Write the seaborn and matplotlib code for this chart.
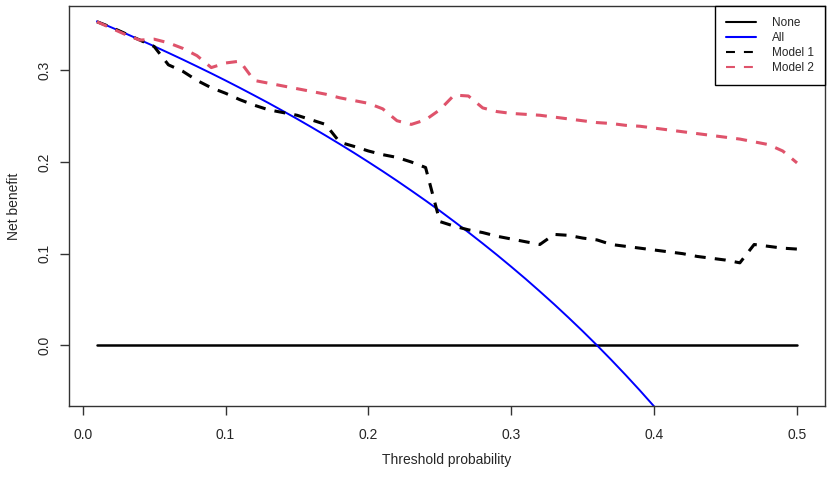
import numpy as np
import pandas as pd
import matplotlib
matplotlib.use('Agg')
import matplotlib.pyplot as plt
import seaborn as sns

# threshold grid and curves
thresh = [0.01, 0.02, 0.03, 0.04, 0.05, 0.06, 0.07, 0.08, 0.09, 0.10,
          0.11, 0.12, 0.13, 0.14, 0.15, 0.16, 0.17, 0.18, 0.19, 0.20,
          0.21, 0.22, 0.23, 0.24, 0.25, 0.26, 0.27, 0.28, 0.29, 0.30,
          0.31, 0.32, 0.33, 0.34, 0.35, 0.36, 0.37, 0.38, 0.39, 0.40,
          0.41, 0.42, 0.43, 0.44, 0.45, 0.46, 0.47, 0.48, 0.49, 0.50]

nb_none = [0.0] * len(thresh)

all_thresh = [0.01, 0.02, 0.03, 0.04, 0.05, 0.06, 0.07, 0.08, 0.09, 0.10,
              0.11, 0.12, 0.13, 0.14, 0.15, 0.16, 0.17, 0.18, 0.19, 0.20,
              0.21, 0.22, 0.23, 0.24, 0.25, 0.26, 0.27, 0.28, 0.29, 0.30,
              0.31, 0.32, 0.33, 0.34, 0.35, 0.36, 0.37, 0.38, 0.39, 0.40, 0.41]
nb_all = [0.3535, 0.3469, 0.3402, 0.3333, 0.3263, 0.3191, 0.3118, 0.3043, 0.2967, 0.2889,
          0.2809, 0.2727, 0.2644, 0.2558, 0.2471, 0.2381, 0.2289, 0.2195, 0.2099, 0.2000,
          0.1899, 0.1795, 0.1688, 0.1579, 0.1467, 0.1351, 0.1233, 0.1111, 0.0986, 0.0857,
          0.0725, 0.0588, 0.0448, 0.0303, 0.0154, 0.0000, -0.0159, -0.0323, -0.0492, -0.0667, -0.0847]

nb_model1 = [0.353, 0.347, 0.340, 0.333, 0.326, 0.306, 0.299, 0.289, 0.281, 0.275,
             0.268, 0.262, 0.257, 0.254, 0.251, 0.246, 0.241, 0.2215, 0.217, 0.212,
             0.208, 0.205, 0.200, 0.194, 0.135, 0.130, 0.126, 0.123, 0.119, 0.116,
             0.113, 0.110, 0.121, 0.120, 0.117, 0.115, 0.110, 0.108, 0.106, 0.104,
             0.102, 0.100, 0.097, 0.095, 0.093, 0.090, 0.110, 0.108, 0.106, 0.105]

nb_model2 = [0.353, 0.346, 0.339, 0.333, 0.334, 0.330, 0.324, 0.316, 0.303, 0.308,
             0.310, 0.289, 0.286, 0.283, 0.280, 0.277, 0.274, 0.270, 0.267, 0.264,
             0.258, 0.245, 0.241, 0.246, 0.257, 0.273, 0.272, 0.259, 0.255, 0.253,
             0.252, 0.251, 0.249, 0.247, 0.245, 0.243, 0.242, 0.240, 0.239, 0.237,
             0.235, 0.233, 0.231, 0.229, 0.227, 0.225, 0.222, 0.219, 0.212, 0.199]

sns.set_style('ticks')
plt.rcParams['font.family'] = ['Liberation Sans', 'DejaVu Sans']

fig = plt.figure(figsize=(8.29, 4.79), dpi=100)
ax = fig.add_axes([0.0832, 0.1524, 0.9120, 0.8351])

dash = (0, (3.6, 3.0))
sns.lineplot(x=thresh, y=nb_none, color='black', lw=1.8, ax=ax, label='None')
sns.lineplot(x=all_thresh, y=nb_all, color='#0000FF', lw=1.4, ax=ax, label='All')
sns.lineplot(x=thresh, y=nb_model1, color='black', lw=2.2, ax=ax, label='Model 1',
             linestyle=dash)
sns.lineplot(x=thresh, y=nb_model2, color='#DF536B', lw=2.2, ax=ax, label='Model 2',
             linestyle=dash)

ax.set_xlim(-0.0096, 0.5196)
ax.set_ylim(-0.0662, 0.3702)
ax.set_xticks([0.0, 0.1, 0.2, 0.3, 0.4, 0.5])
ax.set_xticklabels(['0.0', '0.1', '0.2', '0.3', '0.4', '0.5'])
ax.set_yticks([0.0, 0.1, 0.2, 0.3])
ax.set_yticklabels(['0.0', '0.1', '0.2', '0.3'], rotation=90, va='center')
ax.tick_params(direction='out', length=6.5, width=1, color='#333333',
               labelsize=10)
ax.tick_params(axis='x', pad=9)
ax.tick_params(axis='y', pad=6)
for s in ax.spines.values():
    s.set_visible(True)
    s.set_linewidth(1)
    s.set_color('#333333')

ax.set_xlabel('Threshold probability', fontsize=10, labelpad=8)
ax.set_ylabel('Net benefit', fontsize=10, labelpad=12)

leg = ax.legend(loc='upper right', borderaxespad=0, fancybox=False, fontsize=8.5,
                handlelength=2.5, handletextpad=1.35, labelspacing=0.25,
                borderpad=0.95, framealpha=1)
leg.get_frame().set_edgecolor('black')
leg.get_frame().set_linewidth(1)
for h in leg.get_lines():
    h.set_linewidth(1.5)
for h in leg.get_lines()[2:]:
    h.set_linestyle((0, (4.3, 4.3)))

fig.savefig('out.png', dpi=100)
